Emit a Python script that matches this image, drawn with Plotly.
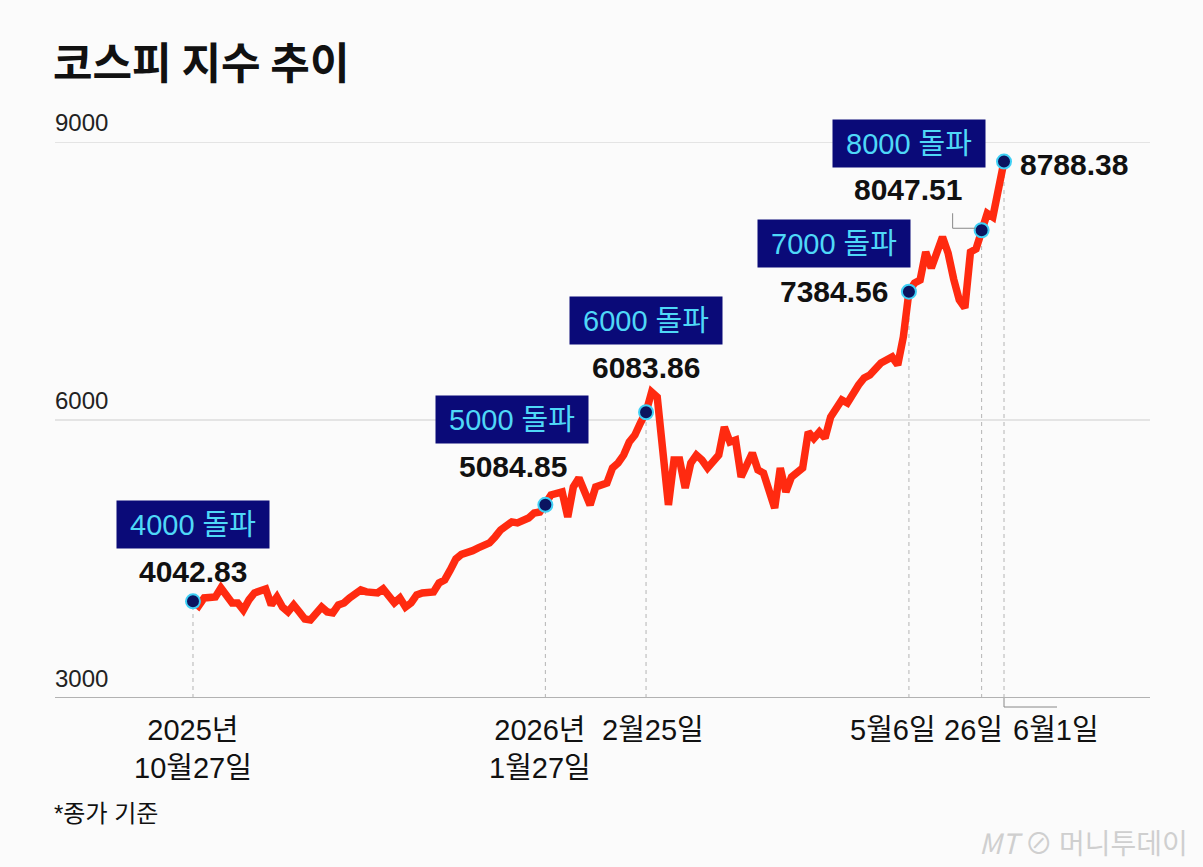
import plotly.graph_objects as go

# 거래일 순번 (2025-10-27 = 0) 과 코스피 종가
days = [0, 1, 2, 4, 5, 6, 7, 8, 9, 10, 11, 13, 14, 15, 16, 17, 18, 19, 20, 21,
        22, 23, 24, 25, 26, 27, 28, 30, 31, 33, 34, 35, 36, 37, 38, 39, 40, 41,
        43, 44, 45, 46, 47, 48, 49, 50, 51, 53, 54, 55, 57, 58, 60, 61, 62, 63,
        64, 66, 67, 68, 69, 71, 72, 74, 75, 76, 77, 78, 79, 80, 81, 82, 83, 85,
        86, 87, 88, 89, 90, 91, 92, 94, 95, 96, 97, 98, 100, 101, 102, 104, 105,
        106, 107, 109, 110, 111, 112, 113, 114, 116, 117, 119, 120, 121, 123,
        125, 126, 127, 128, 129, 130, 131, 132, 134, 135, 136, 137, 138, 139,
        140, 141, 142, 143, 144, 145]
closes = [4042.83, 3993, 4080, 4090, 4188, 4112, 4026, 4026, 3950, 4058, 4134,
          4177, 4004, 4090, 3982, 3929, 4004, 3929, 3853, 3842, 3929, 3982, 3929,
          3918, 4004, 4026, 4080, 4166, 4145, 4134, 4177, 4112, 4026, 4080, 3982,
          4026, 4112, 4134, 4145, 4242, 4274, 4382, 4500, 4550, 4565, 4590, 4620,
          4673, 4738, 4813, 4900, 4889, 4943, 4997, 5007, 5084.85, 5191, 5223,
          4953, 5277, 5374, 5083, 5277, 5320, 5482, 5536, 5622, 5763, 5838, 5968,
          6083.86, 6302, 6248, 5083, 5568, 5568, 5266, 5536, 5622, 5568, 5482,
          5622, 5925, 5763, 5784, 5385, 5644, 5461, 5428, 5050, 5482, 5223, 5385,
          5482, 5871, 5800, 5871, 5806, 6033, 6216, 6184, 6378, 6453, 6486, 6615,
          6680, 6594, 6896, 7384.56, 7478, 7511, 7813, 7640, 7975, 7802, 7520,
          7295, 7210, 7813, 7846, 8047.51, 8230, 8190, 8500, 8788.38]

milestone_days = [0, 63, 81, 128, 141, 145]
milestone_values = [4042.83, 5084.85, 6083.86, 7384.56, 8047.51, 8788.38]
milestone_titles = ['4000 돌파', '5000 돌파', '6000 돌파', '7000 돌파', '8000 돌파', None]
date_labels = ['2025년<br>10월27일', '2026년<br>1월27일', '2월25일', '5월6일', '26일', '6월1일']
y_ticks = [3000, 6000, 9000]

NUM_FONT = 'Liberation Sans, Noto Sans CJK KR'

fig = go.Figure()

fig.add_trace(go.Scatter(
    x=days, y=closes, mode='lines',
    line=dict(color='#ff2a10', width=7.5),
    cliponaxis=False, hoverinfo='skip', showlegend=False
))
fig.add_trace(go.Scatter(
    x=milestone_days, y=milestone_values, mode='markers',
    marker=dict(size=14, color='#0b1460', line=dict(color='#3fd0f5', width=2)),
    cliponaxis=False, showlegend=False
))

# 가로 기준선
shapes = []
for t in y_ticks:
    shapes.append(dict(type='line', xref='paper', yref='y', x0=0, x1=1, y0=t, y1=t,
                       line=dict(color='#9a9a9a' if t == 3000 else '#cdcdcd',
                                 width=1.5 if t == 3000 else 1), layer='below'))

# 점선 (각 기록 지점 -> 축)
for d, v in zip(milestone_days, milestone_values):
    shapes.append(dict(type='line', xref='x', yref='y', x0=d, x1=d, y0=3000, y1=v,
                       line=dict(color='#b4b4b4', width=1, dash='4px,4px'), layer='below'))

# 8047.51 지시선
shapes.append(dict(type='line', xref='x', yref='y', xsizemode='pixel', ysizemode='pixel',
                   xanchor=milestone_days[4], yanchor=milestone_values[4],
                   x0=-29, x1=-29, y0=2, y1=17, line=dict(color='#888', width=1)))
shapes.append(dict(type='line', xref='x', yref='y', xsizemode='pixel', ysizemode='pixel',
                   xanchor=milestone_days[4], yanchor=milestone_values[4],
                   x0=-29, x1=-6, y0=2, y1=2, line=dict(color='#888', width=1)))
# 6월1일 지시선 (축 아래)
shapes.append(dict(type='line', xref='x', yref='paper', xsizemode='pixel', ysizemode='pixel',
                   xanchor=milestone_days[5], yanchor=0,
                   x0=0, x1=0, y0=0, y1=-9, line=dict(color='#888', width=1)))
shapes.append(dict(type='line', xref='x', yref='paper', xsizemode='pixel', ysizemode='pixel',
                   xanchor=milestone_days[5], yanchor=0,
                   x0=0, x1=53, y0=-9, y1=-9, line=dict(color='#888', width=1)))

annotations = []

# y축 눈금 라벨 (기준선 위)
for t in y_ticks:
    annotations.append(dict(
        x=0, y=t, xref='paper', yref='y', text=str(t), showarrow=False,
        xanchor='left', yanchor='bottom', yshift=4, xshift=-2,
        font=dict(family=NUM_FONT, size=24, color='#222')
    ))

# 돌파 박스
box_shift = [(0, 77), (-33, 85), (0, 92), (-75, 48), (-73, 87)]
for d, v, t, (dx, dy) in zip(milestone_days, milestone_values, milestone_titles, box_shift):
    annotations.append(dict(
        x=d, y=v, xref='x', yref='y', text=t, showarrow=False,
        xshift=dx, yshift=dy, width=150, height=45, bgcolor='#0a0a78',
        font=dict(family=NUM_FONT, size=29, color='#4fd8f7')
    ))

# 값 라벨
value_shift = [(0, 30, 'center'), (-32, 38, 'center'), (0, 45, 'center'),
               (-75, 0, 'center'), (-74, 41, 'center'), (14, -3, 'left')]
for d, v, (dx, dy, anc) in zip(milestone_days, milestone_values, value_shift):
    annotations.append(dict(
        x=d, y=v, xref='x', yref='y', text=f'{v:.2f}', showarrow=False,
        xshift=dx, yshift=dy, xanchor=anc,
        font=dict(family=NUM_FONT, size=30, color='#111', weight='bold')
    ))

# 날짜 라벨
date_shift = [0, -5, 7, -16, -8, 52]
for d, t, dx in zip(milestone_days, date_labels, date_shift):
    annotations.append(dict(
        x=d, y=3000, xref='x', yref='y', text=t, showarrow=False,
        xshift=dx, yshift=-14, yanchor='top',
        font=dict(family=NUM_FONT, size=29, color='#111')
    ))

annotations.append(dict(
    x=0, y=(698 - 813) / 556, xref='paper', yref='paper', text='*종가 기준',
    showarrow=False, xanchor='left', yanchor='middle', xshift=-3,
    font=dict(family=NUM_FONT, size=24, color='#111')
))
annotations.append(dict(
    x=(1190 - 55) / 1095, y=(698 - 842) / 556, xref='paper', yref='paper',
    text='<i>MT</i> ⊘ 머니투데이', showarrow=False,
    xanchor='right', yanchor='middle',
    font=dict(family='Noto Sans CJK KR', size=28, color='#cfcfcf')
))

fig.update_layout(
    width=1203, height=867,
    margin=dict(l=55, r=53, t=142, b=169),
    paper_bgcolor='#fbfbfb', plot_bgcolor='#fbfbfb',
    title=dict(text='<b>코스피 지수 추이</b>', x=53 / 1203, xref='container',
               xanchor='left', y=1 - 64 / 867, yref='container', yanchor='middle',
               font=dict(family='Noto Sans CJK KR', size=43, color='#111')),
    xaxis=dict(range=[-24.67, 171.1], showgrid=False, zeroline=False,
               showticklabels=False, showline=False, ticks=''),
    yaxis=dict(range=[3000, 9000], showgrid=False, zeroline=False,
               showticklabels=False, showline=False, ticks=''),
    shapes=shapes,
    annotations=annotations,
)

fig.write_html('out.html', config={'displayModeBar': False},
               post_script="document.body.style.margin='0';")
